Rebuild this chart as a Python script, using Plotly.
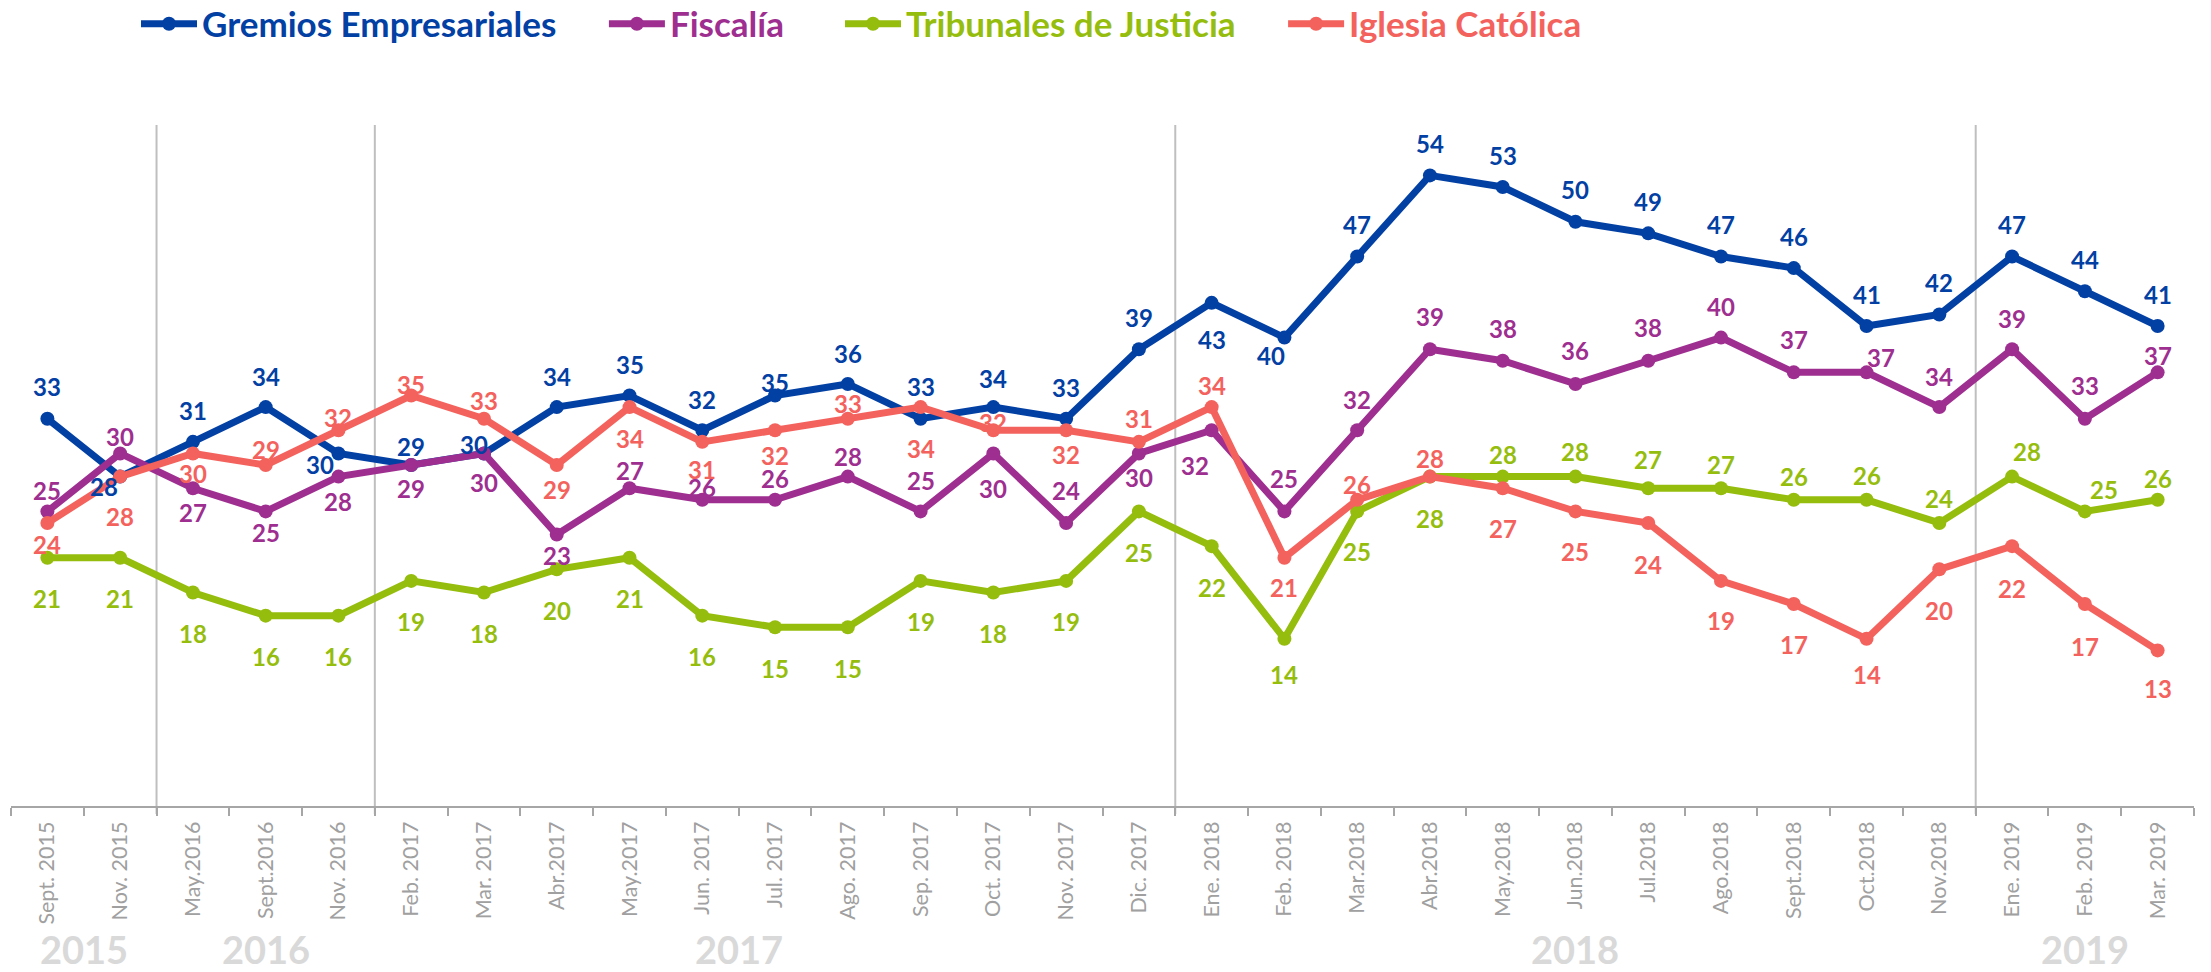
import plotly.graph_objects as go

# ---------------- data ----------------
categories = ["Sept. 2015", "Nov. 2015", "May.2016", "Sept.2016", "Nov. 2016",
              "Feb. 2017", "Mar. 2017", "Abr.2017", "May.2017", "Jun. 2017",
              "Jul. 2017", "Ago. 2017", "Sep. 2017", "Oct. 2017", "Nov. 2017",
              "Dic. 2017", "Ene. 2018", "Feb. 2018", "Mar.2018", "Abr.2018",
              "May.2018", "Jun.2018", "Jul.2018", "Ago.2018", "Sept.2018",
              "Oct.2018", "Nov.2018", "Ene. 2019", "Feb. 2019", "Mar. 2019"]

gremios = [33, 28, 31, 34, 30, 29, 30, 34, 35, 32, 35, 36, 33, 34, 33,
           39, 43, 40, 47, 54, 53, 50, 49, 47, 46, 41, 42, 47, 44, 41]
fiscalia = [25, 30, 27, 25, 28, 29, 30, 23, 27, 26, 26, 28, 25, 30, 24,
            30, 32, 25, 32, 39, 38, 36, 38, 40, 37, 37, 34, 39, 33, 37]
tribunales = [21, 21, 18, 16, 16, 19, 18, 20, 21, 16, 15, 15, 19, 18, 19,
              25, 22, 14, 25, 28, 28, 28, 27, 27, 26, 26, 24, 28, 25, 26]
iglesia = [24, 28, 30, 29, 32, 35, 33, 29, 34, 31, 32, 33, 34, 32, 32,
           31, 34, 21, 26, 28, 27, 25, 24, 19, 17, 14, 20, 22, 17, 13]

series_names = ["Gremios Empresariales", "Fiscalía", "Tribunales de Justicia", "Iglesia Católica"]

year_labels = ["2015", "2016", "2017", "2018", "2019"]
year_centers = [0.5, 3, 9.5, 21, 28]          # category index of each year label
year_breaks = [1.5, 4.5, 15.5, 26.5]          # separators between years

# ---------------- styling ----------------
colors = ["#0340A4", "#9E2F90", "#95BD0D", "#F4625D"]

# label offsets in px (dy > 0 means below the point), dx horizontal
dy_gremios = [-35, 7, -34, -34, 8, -22, -12, -34, -34, -34, -16, -33, -35, -32, -34,
              -35, 34, 15, -35, -35, -35, -35, -35, -35, -35, -35, -35, -35, -35, -35]
dx_gremios = [0, -16, 0, 0, -18, 0, -10, 0, 0, 0, 0, 0, 0, 0, 0,
              0, 0, -13, 0, 0, 0, 0, 0, 0, 0, 0, 0, 0, 0, 0]
dy_fiscalia = [-24, -20, 21, 18, 22, 20, 26, 18, -21, -15, -24, -23, -34, 32, -35,
               21, 32, -36, -34, -36, -35, -36, -36, -34, -36, -18, -34, -34, -36, -20]
dx_fiscalia = [0] * 16 + [-17] + [0] * 8 + [14] + [0] * 4
dy_tribunales = [38] * 17 + [33, 37, 39, -25, -28, -32, -27, -26, -27, -27, -28, -25, -24]
dx_tribunales = [0] * 27 + [15, 19, 0]
dy_iglesia = [19, 37, 17, -19, -16, -14, -21, 21, 28, 25, 22, -18, 38, -11, 21,
              -26, -25, 27, -18, -21, 37, 37, 39, 37, 37, 33, 38, 39, 39, 35]
dx_iglesia = [0] * 30
LABEL_BASELINE_FIX = 3   # text box centre vs. visual digit centre

all_values = [gremios, fiscalia, tribunales, iglesia]
all_dy = [dy_gremios, dy_fiscalia, dy_tribunales, dy_iglesia]
all_dx = [dx_gremios, dx_fiscalia, dx_tribunales, dx_iglesia]
legend_pad = ["\u00a0" * 5, "\u00a0" * 6, "\u00a0" * 5, ""]

FONT = "Lato"
W, H = 2211, 972
M_L, M_R, M_T, M_B = 11, 17, 110, 166
plot_h = H - M_T - M_B
px_per_unit = 11.585
y_min = -5 / px_per_unit
y_max = y_min + plot_h / px_per_unit

fig = go.Figure()
for name, vals, col, pad in zip(series_names, all_values, colors, legend_pad):
    fig.add_trace(go.Scatter(
        x=categories, y=vals, mode="lines+markers",
        name=f"<span style='color:{col}'>{name}</span>{pad}",
        line=dict(color=col, width=7),
        marker=dict(color=col, size=14),
        hoverinfo="x+y",
    ))

annotations = []
for vals, col, dys, dxs in zip(all_values, colors, all_dy, all_dx):
    for cat, v, dy, dx in zip(categories, vals, dys, dxs):
        annotations.append(dict(
            x=cat, y=v, xref="x", yref="y", text=str(v), showarrow=False,
            xshift=dx, yshift=-(dy + LABEL_BASELINE_FIX),
            font=dict(family=FONT, size=24, color=col, weight="bold"),
        ))

for lab, xc in zip(year_labels, year_centers):
    annotations.append(dict(
        x=xc, y=-(949 - (H - M_B)) / plot_h, xref="x", yref="paper",
        text=lab, showarrow=False, xanchor="center", yanchor="middle",
        font=dict(family=FONT, size=38, color="#D9D9D9", weight="bold"),
    ))

shapes = []
for xb in year_breaks:
    shapes.append(dict(
        type="line", xref="x", yref="paper", x0=xb, x1=xb,
        y0=-8 / plot_h, y1=(H - M_B - 125) / plot_h,
        line=dict(color="#BFBFBF", width=2), layer="below",
    ))

fig.update_layout(
    width=W, height=H,
    margin=dict(l=M_L, r=M_R, t=M_T, b=M_B, autoexpand=False),
    paper_bgcolor="white", plot_bgcolor="white",
    showlegend=True,
    legend=dict(
        orientation="h", xref="container", yref="container",
        x=136 / W, xanchor="left",
        y=1 - 24 / H, yanchor="middle",
        font=dict(family=FONT, size=35, weight="bold"),
        bgcolor="rgba(0,0,0,0)", itemwidth=56,
    ),
    annotations=annotations,
    shapes=shapes,
    xaxis=dict(
        type="category", range=[-0.5, len(categories) - 0.5],
        showline=True, linecolor="#A6A6A6", linewidth=2,
        ticks="outside", tickson="boundaries", ticklen=8, tickwidth=1.5, tickcolor="#A6A6A6",
        tickangle=-90, tickfont=dict(family=FONT, size=21.5, color="#A0A0A0"),
        ticklabelstandoff=5,
        showgrid=False, zeroline=False, fixedrange=True, automargin=False,
    ),
    yaxis=dict(visible=False, range=[y_min, y_max], showgrid=False, zeroline=False),
)

fig.write_html(
    "out.html",
    config={"displayModeBar": False},
    post_script="document.body.style.margin='0';document.body.style.overflow='hidden';",
)
